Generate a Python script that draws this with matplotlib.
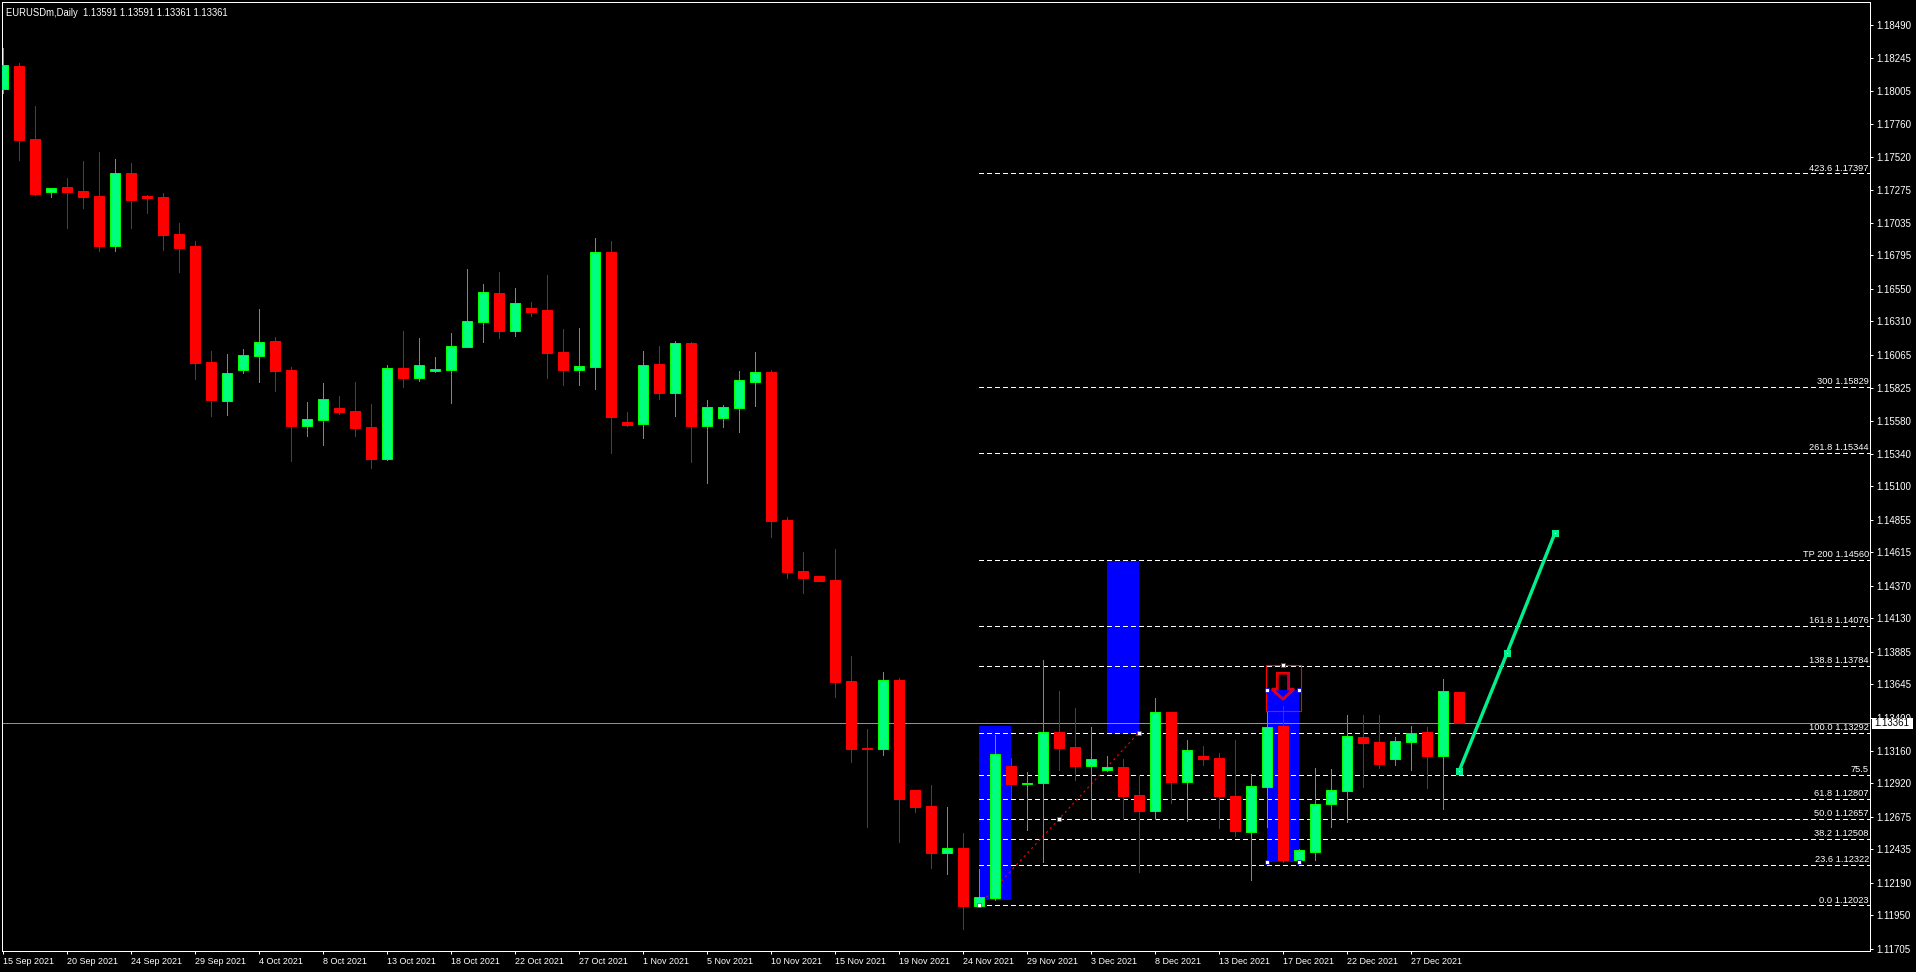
import numpy as np
import matplotlib
matplotlib.use("Agg")
import matplotlib.pyplot as plt
from matplotlib.patches import Rectangle, Polygon

title = "EURUSDm,Daily  1.13591 1.13591 1.13361 1.13361"
last_price = 1.13361

opens = [1.18017, 1.18188, 1.17650, 1.17260, 1.17297, 1.17268, 1.17231, 1.16864, 1.17400, 1.17231,
         1.17224, 1.16952, 1.16864, 1.16012, 1.15726, 1.15953, 1.16056, 1.16166, 1.15953, 1.15542,
         1.15586, 1.15674, 1.15652, 1.15535, 1.15300, 1.15968, 1.15895, 1.15946, 1.15953, 1.16122,
         1.16306, 1.16519, 1.16240, 1.16409, 1.16394, 1.16086, 1.15953, 1.15975, 1.16820, 1.15572,
         1.15557, 1.15997, 1.15785, 1.16152, 1.15542, 1.15601, 1.15674, 1.15865, 1.15939, 1.14852,
         1.14477, 1.14441, 1.14411, 1.13670, 1.13178, 1.13171, 1.13677, 1.12870, 1.12752, 1.12407,
         1.12444, 1.12018, 1.12077, 1.13046, 1.12914, 1.12921, 1.13296, 1.13186, 1.13046, 1.13017,
         1.13039, 1.12833, 1.12716, 1.13443, 1.12929, 1.13120, 1.13105, 1.12826, 1.12561, 1.12892,
         1.13340, 1.12356, 1.12415, 1.12767, 1.12862, 1.13259, 1.13222, 1.13097, 1.13222, 1.13296,
         1.13120, 1.13591]
highs = [1.18320, 1.18210, 1.17892, 1.17290, 1.17363, 1.17488, 1.17554, 1.17503, 1.17473, 1.17238,
         1.17253, 1.17033, 1.16901, 1.16093, 1.16071, 1.16107, 1.16401, 1.16195, 1.15975, 1.15718,
         1.15858, 1.15763, 1.15865, 1.15704, 1.15990, 1.16240, 1.16188, 1.16049, 1.16225, 1.16695,
         1.16585, 1.16673, 1.16555, 1.16453, 1.16651, 1.16254, 1.16262, 1.16923, 1.16901, 1.15645,
         1.16093, 1.16130, 1.16166, 1.16159, 1.15733, 1.15696, 1.15946, 1.16086, 1.15953, 1.14874,
         1.14617, 1.14441, 1.14639, 1.13854, 1.13318, 1.13736, 1.13692, 1.12870, 1.12906, 1.12745,
         1.12554, 1.12290, 1.13274, 1.13105, 1.13002, 1.13824, 1.13597, 1.13472, 1.13332, 1.13120,
         1.13097, 1.12980, 1.13545, 1.13443, 1.13237, 1.13193, 1.13142, 1.13237, 1.12987, 1.13450,
         1.13487, 1.12437, 1.13032, 1.13024, 1.13420, 1.13420, 1.13420, 1.13259, 1.13340, 1.13332,
         1.13685, 1.13591]
lows = [1.17989, 1.17495, 1.17238, 1.17226, 1.16996, 1.17143, 1.16828, 1.16828, 1.16996, 1.17106,
        1.16835, 1.16673, 1.15887, 1.15616, 1.15623, 1.15931, 1.15865, 1.15799, 1.15285, 1.15469,
        1.15403, 1.15630, 1.15469, 1.15234, 1.15293, 1.15829, 1.15873, 1.15939, 1.15711, 1.16122,
        1.16159, 1.16188, 1.16203, 1.16350, 1.15895, 1.15843, 1.15843, 1.15814, 1.15344, 1.15542,
        1.15454, 1.15741, 1.15616, 1.15278, 1.15124, 1.15535, 1.15498, 1.15689, 1.14727, 1.14426,
        1.14316, 1.14404, 1.13553, 1.13075, 1.12598, 1.13127, 1.12488, 1.12708, 1.12297, 1.12253,
        1.11849, 1.12018, 1.12062, 1.12811, 1.12576, 1.12341, 1.13017, 1.12943, 1.12657, 1.13009,
        1.12657, 1.12268, 1.12657, 1.12774, 1.12642, 1.13053, 1.12591, 1.12532, 1.12209, 1.12598,
        1.12341, 1.12356, 1.12356, 1.12598, 1.12635, 1.12892, 1.13032, 1.13053, 1.13017, 1.12885,
        1.12730, 1.13361]
closes = [1.18193, 1.17642, 1.17246, 1.17290, 1.17260, 1.17224, 1.16864, 1.17400, 1.17202, 1.17216,
          1.16945, 1.16849, 1.16004, 1.15733, 1.15931, 1.16063, 1.16159, 1.15946, 1.15542, 1.15594,
          1.15741, 1.15645, 1.15528, 1.15300, 1.15968, 1.15895, 1.15990, 1.15961, 1.16130, 1.16313,
          1.16526, 1.16240, 1.16445, 1.16379, 1.16078, 1.15953, 1.15983, 1.16820, 1.15608, 1.15550,
          1.15990, 1.15785, 1.16152, 1.15542, 1.15682, 1.15682, 1.15880, 1.15939, 1.14845, 1.14470,
          1.14426, 1.14404, 1.13663, 1.13171, 1.13171, 1.13677, 1.12804, 1.12745, 1.12407, 1.12444,
          1.12018, 1.12084, 1.13134, 1.12914, 1.12925, 1.13296, 1.13178, 1.13046, 1.13097, 1.13039,
          1.12826, 1.12716, 1.13443, 1.12929, 1.13163, 1.13097, 1.12826, 1.12569, 1.12899, 1.13332,
          1.12356, 1.12429, 1.12767, 1.12870, 1.13266, 1.13215, 1.13061, 1.13230, 1.13288, 1.13120,
          1.13597, 1.13361]

date_labels = ["15 Sep 2021", "20 Sep 2021", "24 Sep 2021", "29 Sep 2021", "4 Oct 2021", "8 Oct 2021",
               "13 Oct 2021", "18 Oct 2021", "22 Oct 2021", "27 Oct 2021", "1 Nov 2021", "5 Nov 2021",
               "10 Nov 2021", "15 Nov 2021", "19 Nov 2021", "24 Nov 2021", "29 Nov 2021", "3 Dec 2021",
               "8 Dec 2021", "13 Dec 2021", "17 Dec 2021", "22 Dec 2021", "27 Dec 2021"]
price_ticks = [1.18490, 1.18245, 1.18005, 1.17760, 1.17520, 1.17275, 1.17035, 1.16795, 1.16550, 1.16310,
               1.16065, 1.15825, 1.15580, 1.15340, 1.15100, 1.14855, 1.14615, 1.14370, 1.14130, 1.13885,
               1.13645, 1.13400, 1.13160, 1.12920, 1.12675, 1.12435, 1.12190, 1.11950, 1.11705]

fib_labels = ["423.6 1.17397", "300 1.15829", "261.8 1.15344", "TP 200 1.14560", "161.8 1.14076",
              "138.8 1.13784", "100.0 1.13292", "75.5", "61.8 1.12807", "50.0 1.12657",
              "38.2 1.12508", "23.6 1.12322", "0.0 1.12023"]
fib_prices = [1.17397, 1.15829, 1.15344, 1.14560, 1.14076, 1.13784, 1.13292, 1.12981, 1.12807, 1.12657,
              1.12508, 1.12322, 1.12023]
fib_start = 61

# blue zones: first bar, last bar, top, bottom
zone_left = [61, 69, 79]
zone_right = [63, 71, 81]
zone_top = [1.13340, 1.14554, 1.13604]
zone_bottom = [1.12062, 1.13283, 1.12344]

fib_trend_x = [61, 66, 71]
fib_trend_y = [1.12023, 1.12657, 1.13292]
green_trend_x = [91, 94, 97]
green_trend_y = [1.13006, 1.13874, 1.14757]

# arrow object on bar 80
arrow_box_x = [78.96, 81.11]
arrow_box_y = [1.13452, 1.13785]
arrow_dx = [-0.35, 0.35, 0.35, 0.69, 0.0, -0.69, -0.35]
arrow_y = [1.13727, 1.13727, 1.13611, 1.13611, 1.13538, 1.13611, 1.13611]

W, H = 1916, 972
bar_px = 16.0
px = 0.72  # one pixel in points at dpi 100

plt.rcParams["font.family"] = ["Liberation Sans", "DejaVu Sans"]

fig = plt.figure(figsize=(W / 100, H / 100), dpi=100, facecolor="black")
ax = fig.add_axes([2 / W, 1 - 951 / H, (1870 - 2) / W, (951 - 2.5) / H], facecolor="black")
ax.set_xlim(-0.0625, 116.69)
ax.set_ylim(1.11688, 1.18652)

for s in ax.spines.values():
    s.set_color("white")
    s.set_linewidth(px)

idx = np.arange(len(opens))
o, h, l, c = map(np.array, (opens, highs, lows, closes))
up = c >= o

# zones and objects sit behind the candles
for x0, x1, top, bot in zip(zone_left, zone_right, zone_top, zone_bottom):
    ax.add_patch(Rectangle((x0, bot), x1 - x0, top - bot, facecolor="#0000FF", edgecolor="none",
                           zorder=1, antialiased=False))

for price in fib_prices:
    ax.plot([fib_start, ax.get_xlim()[1]], [price, price], color="white", lw=px,
            linestyle=(0, (5, 3)), zorder=2, antialiased=False)
ax.axhline(last_price, color="#8C93A0", lw=px, zorder=2)

ax.plot(fib_trend_x, fib_trend_y, color="#FF0000", lw=1.1 * px, linestyle=(0, (2, 3)), zorder=2)
ax.plot(green_trend_x, green_trend_y, color="#00F08C", lw=3.4 * px, zorder=2,
        marker="s", markersize=7 * px, markeredgewidth=0)

# candles
body_w = 10.5 / bar_px
ax.vlines(idx[up], l[up], h[up], color="#00E000", lw=px, zorder=3, antialiased=False)
ax.vlines(idx[~up], l[~up], h[~up], color="#E00000", lw=px, zorder=3, antialiased=False)
ax.bar(idx[up], (c - o)[up], bottom=o[up], width=body_w, facecolor="#00FF7F", edgecolor="#00FF00",
       linewidth=px, zorder=4)
ax.bar(idx[~up], (c - o)[~up], bottom=o[~up], width=body_w, facecolor="#FF0000", edgecolor="#FF0000",
       linewidth=px, zorder=4)

# selected objects
ax.plot(fib_trend_x, fib_trend_y, linestyle="none", marker="s", markersize=4 * px,
        markerfacecolor="white", markeredgecolor="#FF0000", markeredgewidth=0.6 * px, zorder=5)
ax.plot(green_trend_x, green_trend_y, linestyle="none", marker="s", markersize=1.2 * px,
        markerfacecolor="white", markeredgewidth=0, zorder=5)
ax.add_patch(Rectangle((arrow_box_x[0], arrow_box_y[0]), arrow_box_x[1] - arrow_box_x[0],
                       arrow_box_y[1] - arrow_box_y[0], facecolor="none", edgecolor="#FF0000",
                       lw=1.1 * px, zorder=6))
arrow_xy = np.column_stack([80 + np.array(arrow_dx), arrow_y])
ax.add_patch(Polygon(arrow_xy, closed=True, facecolor="none", edgecolor="#FF0000", lw=2.6 * px, zorder=6))
ax.add_patch(Polygon(arrow_xy, closed=True, facecolor="none", edgecolor="#B00040", lw=0.8 * px, zorder=6))
ax.plot([80], [arrow_box_y[1]], linestyle="none", marker="s", markersize=4 * px, markerfacecolor="white",
        markeredgecolor="#FF0000", markeredgewidth=1.0 * px, zorder=7, clip_on=False)
ax.plot([zone_left[2], zone_right[2], zone_left[2], zone_right[2]],
        [zone_top[2], zone_top[2], zone_bottom[2], zone_bottom[2]], linestyle="none", marker="s",
        markersize=3.5 * px, markerfacecolor="white", markeredgecolor="#0000FF",
        markeredgewidth=0.8 * px, zorder=7)

# level labels
xr = ax.get_xlim()[1] - 1.2 / bar_px
for label, price in zip(fib_labels, fib_prices):
    ax.annotate(label, (xr, price), xytext=(0, 0.6), textcoords="offset points", ha="right", va="bottom",
                color="white", fontsize=6.7, zorder=8)

# axes
ax.set_xticks(idx[::4][:len(date_labels)])
ax.set_xticklabels(date_labels, ha="left", color="white", fontsize=6.5)
ax.set_yticks(price_ticks)
ax.set_yticklabels([f"{p:.5f}" for p in price_ticks], color="white", fontsize=7)
ax.yaxis.tick_right()
ax.tick_params(axis="x", colors="white", length=3 * px, width=px, pad=2)
ax.tick_params(axis="y", colors="white", length=3 * px, width=px, pad=2.4)

ax.text(0.0022, 0.9945, title, transform=ax.transAxes, color="white", fontsize=6.85, ha="left", va="top", zorder=8)

# last price tag over the price scale
axis_px = 1870 - 2
tag_half = 5.5 * (ax.get_ylim()[1] - ax.get_ylim()[0]) / (951 - 2.5)
ax.add_patch(Rectangle((1 + 2 / axis_px, last_price - tag_half), 41 / axis_px, 2 * tag_half,
                       transform=ax.get_yaxis_transform(), facecolor="white", edgecolor="none",
                       clip_on=False, zorder=9))
ax.text(1 + 4 / axis_px, last_price, f"{last_price:.5f}", transform=ax.get_yaxis_transform(), ha="left",
        va="center", color="black", fontsize=7, clip_on=False, zorder=10)

fig.savefig("out.png", dpi=100, facecolor="black")
